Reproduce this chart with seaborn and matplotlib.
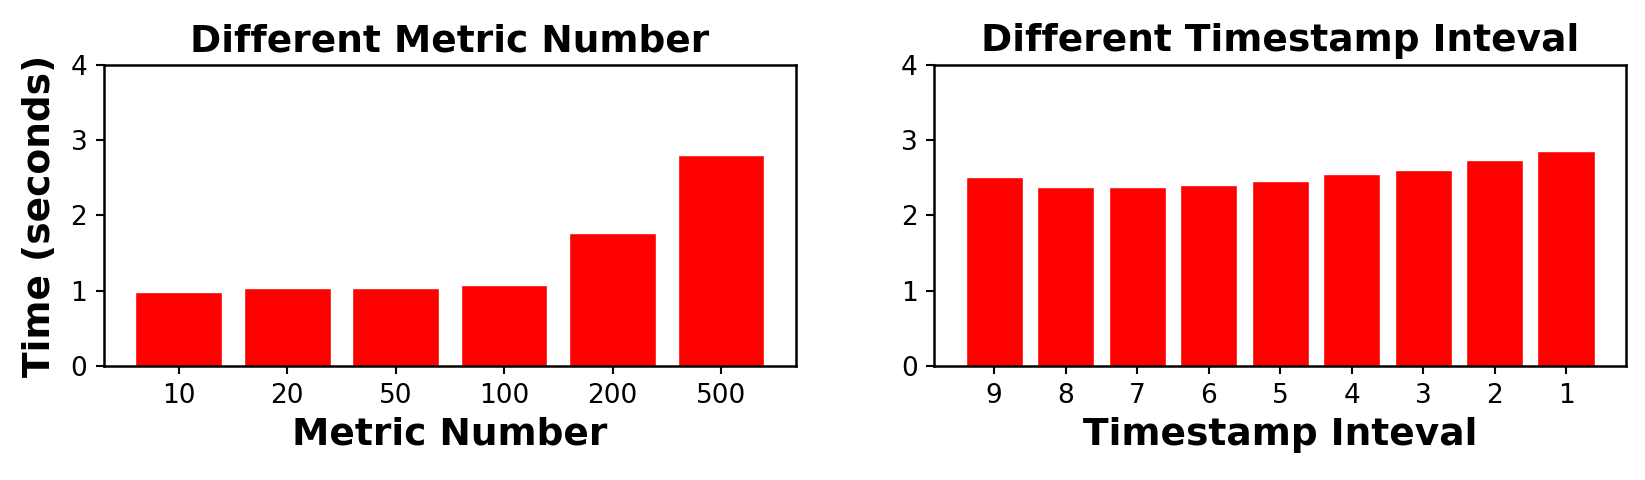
import matplotlib
matplotlib.use('Agg')
from matplotlib import pyplot as plt
import seaborn as sns
import pandas as pd

# datos
metric_number = ['10', '20', '50', '100', '200', '500']
metric_time = [0.99, 1.03, 1.035, 1.07, 1.77, 2.80]

timestamp_inteval = ['9', '8', '7', '6', '5', '4', '3', '2', '1']
timestamp_time = [2.51, 2.385, 2.375, 2.40, 2.465, 2.545, 2.60, 2.74, 2.86]

sns.set_style('ticks')
plt.rcParams['font.family'] = ['DejaVu Sans']
plt.rcParams['text.color'] = 'black'
plt.rcParams['axes.labelcolor'] = 'black'
plt.rcParams['xtick.color'] = 'black'
plt.rcParams['ytick.color'] = 'black'

fig, axes = plt.subplots(1, 2, figsize=(16.45, 4.8), dpi=100)
fig.subplots_adjust(left=0.0632, right=0.9885, bottom=0.2375, top=0.8646, wspace=0.2)

df_metric = pd.DataFrame({'x': metric_number, 'y': metric_time})
df_ts = pd.DataFrame({'x': timestamp_inteval, 'y': timestamp_time})

paneles = [
    (axes[0], df_metric, 'Different Metric Number', 'Metric Number'),
    (axes[1], df_ts, 'Different Timestamp Inteval', 'Timestamp Inteval'),
]

for ax, df, titulo, xlab in paneles:
    sns.barplot(data=df, x='x', y='y', color='#ff0000', saturation=1, width=0.8, ax=ax)
    n = len(df)
    margen = (n - 0.2) * 0.05
    ax.set_xlim(-0.4 - margen, n - 0.6 + margen)
    ax.set_ylim(0, 4)
    ax.set_yticks([0, 1, 2, 3, 4])
    ax.set_title(titulo, fontsize=27, fontweight='bold', pad=10)
    ax.set_xlabel(xlab, fontsize=27, fontweight='bold', labelpad=6)
    ax.set_ylabel('')
    ax.tick_params(labelsize=19, length=6, width=1.5, pad=6)
    for s in ax.spines.values():
        s.set_visible(True)
        s.set_linewidth(1.8)
        s.set_color('black')

axes[0].set_ylabel('Time (seconds)', fontsize=27, fontweight='bold', labelpad=9)

plt.savefig('out.png', dpi=100)
